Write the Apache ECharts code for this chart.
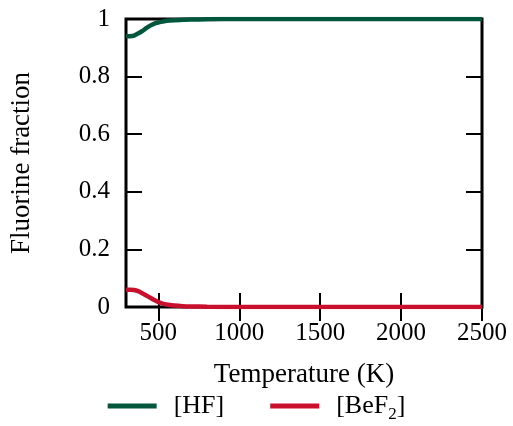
<!DOCTYPE html>
<html><head><meta charset="utf-8">
<script src="https://cdn.jsdelivr.net/npm/echarts@6/dist/echarts.min.js"></script>
<style>html,body{margin:0;padding:0;background:#fff}#c{width:513px;height:426px}</style>
</head><body><div id="c"></div>
<script>
const temps = [300, 325, 350, 375, 400, 425, 450, 475, 500, 525, 550, 600, 650, 700, 800, 1000, 1500, 2000, 2500];
const hf    = [0.940, 0.940, 0.942, 0.950, 0.958, 0.968, 0.977, 0.984, 0.988, 0.991, 0.994, 0.996, 0.997, 0.998, 0.999, 1.0, 1.0, 1.0, 1.0];
const bef2  = [0.060, 0.060, 0.059, 0.055, 0.048, 0.040, 0.032, 0.024, 0.017, 0.012, 0.009, 0.005, 0.003, 0.002, 0.001, 0.0, 0.0, 0.0, 0.0];
const xTicks = [500, 1000, 1500, 2000, 2500];
const yTicks = [0, 0.2, 0.4, 0.6, 0.8, 1];
const seriesNames = ['[HF]', '[BeF2]'];

const font = 'Liberation Serif';
const chart = echarts.init(document.getElementById('c'));
function tick(vals, len) {
  return {show: true, inside: true, length: len, customValues: vals, lineStyle: {color: '#000', width: 2}};
}
function label(vals, show, margin) {
  return {show: show, customValues: vals, fontFamily: font, fontSize: 25, color: '#000', margin: margin,
          formatter: v => String(v)};
}
chart.setOption({
  animation: false,
  textStyle: {fontFamily: font},
  grid: {left: 124, right: 31, top: 19, bottom: 119, show: true, borderColor: '#000', borderWidth: 3, backgroundColor: 'transparent'},
  legend: {
    top: 388, left: 'center', itemWidth: 49, itemHeight: 5, itemGap: 46,
    icon: 'rect',
    data: seriesNames,
    formatter: n => n === '[BeF2]' ? '{g|}[BeF{sub|2}]' : '{g|}' + n,
    textStyle: {fontFamily: font, fontSize: 26, color: '#000',
      rich: {g: {width: 12}, sub: {fontFamily: font, fontSize: 17, verticalAlign: 'bottom', padding: [18, 0, 0, 0]}}}
  },
  xAxis: [{
    type: 'value', min: 300, max: 2500, position: 'bottom', gridIndex: 0,
    name: 'Temperature (K)', nameLocation: 'middle', nameGap: 54,
    nameTextStyle: {fontFamily: font, fontSize: 27, color: '#000'},
    axisLine: {show: false},
    axisTick: tick(xTicks, 14),
    axisLabel: label(xTicks, true, 14),
    splitLine: {show: false}
  }, {
    type: 'value', min: 300, max: 2500, position: 'top', gridIndex: 0,
    axisLine: {show: false},
    axisTick: tick(xTicks, 14),
    axisLabel: label(xTicks, false, 8),
    splitLine: {show: false}
  }],
  yAxis: [{
    type: 'value', min: 0, max: 1, position: 'left', gridIndex: 0,
    name: 'Fluorine fraction', nameLocation: 'middle', nameGap: 91,
    nameTextStyle: {fontFamily: font, fontSize: 27, color: '#000'},
    axisLine: {show: false},
    axisTick: tick(yTicks, 16),
    axisLabel: label(yTicks, true, 16),
    splitLine: {show: false}
  }, {
    type: 'value', min: 0, max: 1, position: 'right', gridIndex: 0,
    axisLine: {show: false},
    axisTick: tick(yTicks, 16),
    axisLabel: label(yTicks, false, 8),
    splitLine: {show: false}
  }],
  series: [{
    name: seriesNames[0], type: 'line', showSymbol: false, smooth: 0.3,
    xAxisIndex: 0, yAxisIndex: 0,
    data: temps.map((t, i) => [t, hf[i]]),
    lineStyle: {color: '#00573c', width: 4.5}, itemStyle: {color: '#00573c'}
  }, {
    name: seriesNames[1], type: 'line', showSymbol: false, smooth: 0.3,
    xAxisIndex: 0, yAxisIndex: 0,
    data: temps.map((t, i) => [t, bef2[i]]),
    lineStyle: {color: '#c8102e', width: 4.5}, itemStyle: {color: '#c8102e'}
  }]
});
</script></body></html>
